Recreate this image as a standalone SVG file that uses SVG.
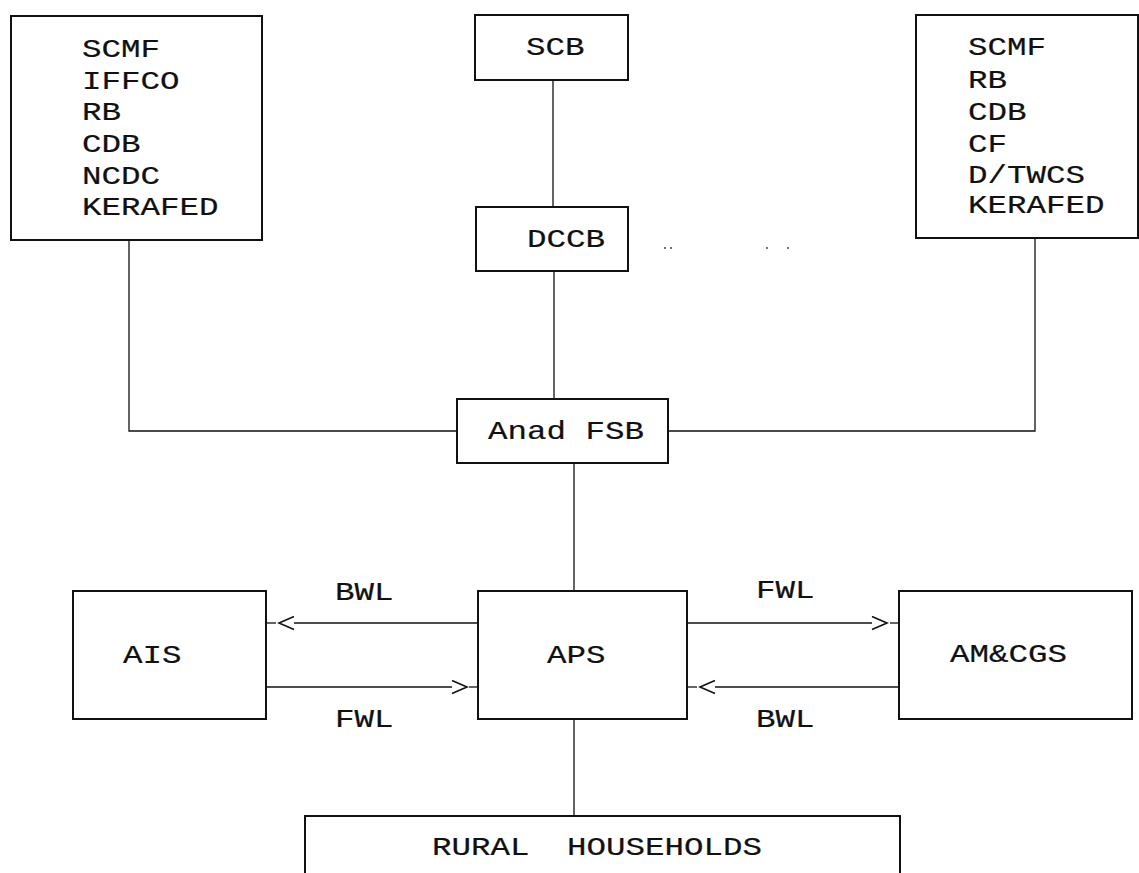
<svg xmlns="http://www.w3.org/2000/svg" width="1139" height="873" viewBox="0 0 1139 873">
<defs>
<style>
.box{fill:#fff;stroke:#111;stroke-width:2}
.ln{fill:none;stroke:#111;stroke-width:1.3}
.t{font-family:"Liberation Mono","Courier New",monospace;font-size:26px;fill:#111;stroke:#111;stroke-width:0.2}
</style>
<marker id="chev" markerUnits="userSpaceOnUse" markerWidth="18" markerHeight="16" viewBox="-1 -1 18 16" refX="0" refY="6.5" orient="auto">
<path d="M0,0 L15,6.5 L0,13" fill="none" stroke="#111" stroke-width="1.6"/>
</marker>
</defs>
<rect width="1139" height="873" fill="#fff"/>
<g id="connectors">
<path class="ln" d="M553 80 V207"/>
<path class="ln" d="M554 271 V399"/>
<path class="ln" d="M129 240 V431 H457"/>
<path class="ln" d="M1035 238 V431 H668"/>
<path class="ln" d="M574 463 V591"/>
<path class="ln" d="M574 719 V816"/>
<path class="ln" d="M478 623 H294" marker-end="url(#chev)"/>
<path class="ln" d="M276 623 H266"/>
<path class="ln" d="M266 687 H452" marker-end="url(#chev)"/>
<path class="ln" d="M469 687 H478"/>
<path class="ln" d="M687 623 H872" marker-end="url(#chev)"/>
<path class="ln" d="M890 623 H899"/>
<path class="ln" d="M899 687 H715" marker-end="url(#chev)"/>
<path class="ln" d="M697 687 H687"/>
<text class="t" transform="translate(335,600) scale(1.25,1)">BWL</text>
<text class="t" transform="translate(335,727) scale(1.25,1)">FWL</text>
<text class="t" transform="translate(756,598) scale(1.25,1)">FWL</text>
<text class="t" transform="translate(756,727) scale(1.25,1)">BWL</text>
</g>
<g id="left-sources">
<rect class="box" x="11" y="16" width="251" height="224"/>
<text class="t" transform="translate(82,57) scale(1.25,1)">SCMF</text>
<text class="t" transform="translate(82,89) scale(1.25,1)">IFFCO</text>
<text class="t" transform="translate(82,120) scale(1.25,1)">RB</text>
<text class="t" transform="translate(82,152) scale(1.25,1)">CDB</text>
<text class="t" transform="translate(82,184) scale(1.25,1)">NCDC</text>
<text class="t" transform="translate(82,215) scale(1.25,1)">KERAFED</text>
</g>
<g id="scb">
<rect class="box" x="475" y="15" width="153" height="65"/>
<text class="t" transform="translate(526,55) scale(1.25,1)">SCB</text>
</g>
<g id="dccb">
<rect class="box" x="476" y="207" width="152" height="64"/>
<text class="t" transform="translate(527,247) scale(1.25,1)">DCCB</text>
</g>
<g id="specks" fill="#333">
<circle cx="665" cy="248" r="0.9"/>
<circle cx="671" cy="248" r="0.9"/>
<circle cx="767" cy="248" r="0.9"/>
<circle cx="788" cy="248" r="0.9"/>
</g>
<g id="right-sources">
<rect class="box" x="916" y="15" width="222" height="223"/>
<text class="t" transform="translate(968,55) scale(1.25,1)">SCMF</text>
<text class="t" transform="translate(968,88) scale(1.25,1)">RB</text>
<text class="t" transform="translate(968,120) scale(1.25,1)">CDB</text>
<text class="t" transform="translate(968,152) scale(1.25,1)">CF</text>
<text class="t" transform="translate(968,183) scale(1.25,1)">D/TWCS</text>
<text class="t" transform="translate(968,213) scale(1.25,1)">KERAFED</text>
</g>
<g id="anad-fsb">
<rect class="box" x="457" y="399" width="211" height="64"/>
<text class="t" transform="translate(488,439) scale(1.25,1)">Anad FSB</text>
</g>
<g id="ais">
<rect class="box" x="73" y="591" width="193" height="128"/>
<text class="t" transform="translate(123,663) scale(1.25,1)">AIS</text>
</g>
<g id="aps">
<rect class="box" x="478" y="591" width="209" height="128"/>
<text class="t" transform="translate(547,663) scale(1.25,1)">APS</text>
</g>
<g id="amcgs">
<rect class="box" x="899" y="591" width="233" height="128"/>
<text class="t" transform="translate(950,662) scale(1.25,1)">AM&amp;CGS</text>
</g>
<g id="rural-households">
<rect class="box" x="305" y="816" width="595" height="70"/>
<text class="t" transform="translate(432,855) scale(1.25,1)">RURAL</text>
<text class="t" transform="translate(567,855) scale(1.25,1)">HOUSEHOLDS</text>
</g>
</svg>
